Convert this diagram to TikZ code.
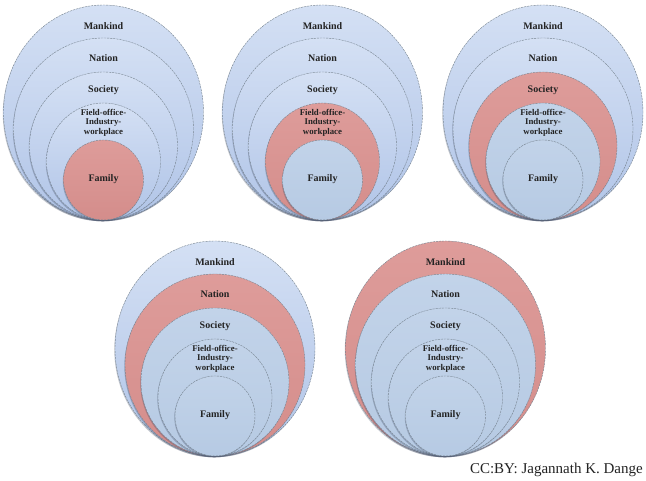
\documentclass[tikz,border=0pt]{standalone}
\usepackage{fontspec}
\setmainfont{Liberation Serif}

% fills of the three kinds of ring
\definecolor{outerTop}{HTML}{D4E0F4}
\definecolor{outerBot}{HTML}{B0C4E7}
\definecolor{redTop}{HTML}{DE9C9A}
\definecolor{redBot}{HTML}{D48D8B}
\definecolor{innerTop}{HTML}{C2D3E9}
\definecolor{innerBot}{HTML}{B6CAE3}
\definecolor{ringline}{HTML}{76838F}
\definecolor{labeltext}{HTML}{232323}
\definecolor{rimshadow}{HTML}{3A4660}

\tikzset{
  ring/.style={draw=ringline, line width=0.4pt, dash pattern=on 2.2pt off 0.9pt},
  rim/.style={fill=rimshadow, fill opacity=0.3},
  lbl/.style={font=\bfseries\fontsize{10}{11}\selectfont, text=labeltext, inner sep=0pt},
  lblsmall/.style={font=\bfseries\fontsize{8.8}{9.6}\selectfont, text=labeltext,
                   inner sep=0pt, align=center},
  credit/.style={font=\fontsize{15}{17}\selectfont, text=labeltext, inner sep=0pt}
}

% One set of nested rings, all touching at the bottom point.
% #1 name prefix, #2 centre x, #3 bottom y, #4 number of the red ring (1 = outermost)
\newcommand\ringdiagram[4]{%
  \foreach \k/\rx/\ry in {1/100/107.5, 2/90/91, 3/74/74, 4/57/58.5, 5/40/40}{%
    \ifnum\k<#4\relax
      \def\ftop{outerTop}\def\fbot{outerBot}%
    \else\ifnum\k=#4\relax
      \def\ftop{redTop}\def\fbot{redBot}%
    \else
      \def\ftop{innerTop}\def\fbot{innerBot}%
    \fi\fi
    \fill[rim] (#2-0.7, #3+\ry-1.3) ellipse [x radius=\rx, y radius=\ry];
    \path[ring, top color=\ftop, bottom color=\fbot]
      (#2, #3+\ry) ellipse [x radius=\rx, y radius=\ry];
  }
  \node[lbl] (#1-mankind) at (#2, #3+194) {Mankind};
  \node[lbl] (#1-nation)  at (#2, #3+162) {Nation};
  \node[lbl] (#1-society) at (#2, #3+130) {Society};
  \node[lblsmall] (#1-field) at (#2, #3+97.5) {Field-office-\\Industry-\\workplace};
  \node[lbl] (#1-family)  at (#2, #3+41) {Family};
}

\begin{document}
\begin{tikzpicture}[x=1pt, y=1pt]
  \useasboundingbox[fill=white] (0,0) rectangle (646,481);

  % top row
  \ringdiagram{famring}{103.5}{261}{5}
  \ringdiagram{workring}{322.5}{261}{4}
  \ringdiagram{socring}{543}{261}{3}
  % bottom row
  \ringdiagram{natring}{215}{25}{2}
  \ringdiagram{manring}{445.5}{25}{1}

  \node[credit, anchor=base east] (creditline) at (643, 7) {CC:BY: Jagannath K. Dange};
\end{tikzpicture}
\end{document}
